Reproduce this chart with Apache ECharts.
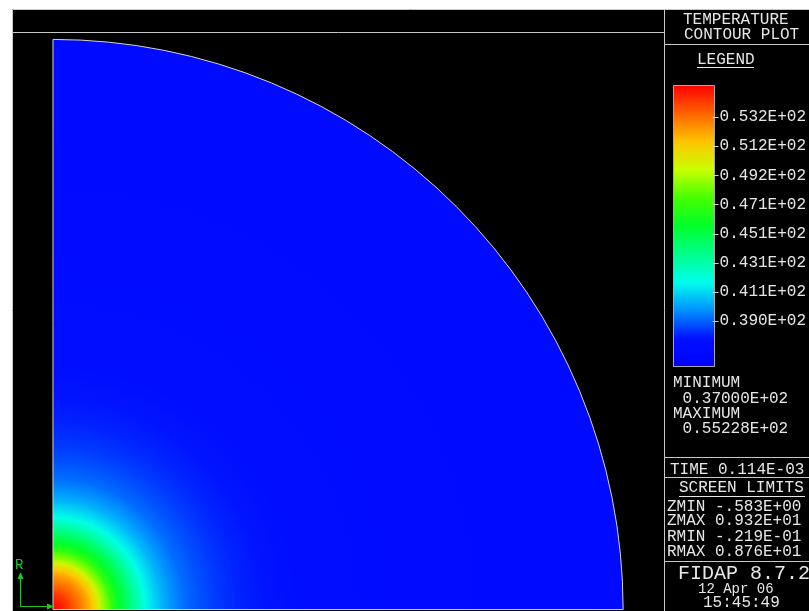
<!DOCTYPE html>
<html>
<head>
<meta charset="utf-8">
<script src="https://cdn.jsdelivr.net/npm/echarts@6/dist/echarts.min.js"></script>
<style>
  html, body { margin: 0; padding: 0; background: #ffffff; }
  #chart { width: 809px; height: 611px; }
</style>
</head>
<body>
<div id="chart"></div>
<script>
// Radial temperature profile, measured outward from the origin of the R-Z section
const profileRadius = [0, 0.1, 0.2, 0.3, 0.4, 0.5, 0.6, 0.7, 0.8, 0.9, 1.0, 1.1, 1.2, 1.3, 1.4,
                       1.5, 1.65, 1.8, 2.0, 2.25, 2.5, 2.8, 3.2, 3.7, 4.3, 5.0, 6.0, 7.2, 8.65];
const profileTemp = [55.2, 55.0, 54.5, 53.8, 53.1, 52.4, 51.4, 50.0, 48.4, 46.9, 45.8, 44.8, 43.8, 42.8, 41.9,
                     41.2, 40.4, 39.8, 39.2, 38.75, 38.4, 38.1, 37.85, 37.6, 37.4, 37.25, 37.12, 37.03, 37.0];
// Outer radius of the quarter-disc domain
const domainRadius = [8.65];

// Legend scale
const legendRange = [35.83, 55.43];
const legendTickValues = [39.025, 41.051, 43.076, 45.101, 47.127, 49.152, 51.177, 53.203];
const legendTickLabels = ['0.390E+02', '0.411E+02', '0.431E+02', '0.451E+02',
                          '0.471E+02', '0.492E+02', '0.512E+02', '0.532E+02'];
const colorRamp = ['#0000ff', '#0010ff', '#0090ff', '#00ffec', '#00ff8c', '#00ff2c',
                   '#47ff00', '#caff00', '#ffc400', '#ff6200', '#ff0000'];

// Side panel text
const titleLines = ['TEMPERATURE', 'CONTOUR PLOT'];
const legendTitle = 'LEGEND';
const extremaLines = ['MINIMUM', ' 0.37000E+02', 'MAXIMUM', ' 0.55228E+02'];
const timeLine = 'TIME 0.114E-03';
const limitsTitle = 'SCREEN LIMITS';
const limitsLines = ['ZMIN -.583E+00', 'ZMAX 0.932E+01', 'RMIN -.219E-01', 'RMAX 0.876E+01'];
const stampLines = ['FIDAP 8.7.2', '12 Apr 06', '15:45:49'];

const chart = echarts.init(document.getElementById('chart'));

const frameColor = '#c8c8c8';
const ink = '#e6e6e6';
const axisGreen = '#1ec81e';
const mono = '"Liberation Mono", "DejaVu Sans Mono", monospace';

function seg(x1, y1, x2, y2, color) {
  return { type: 'line', silent: true, z: 20,
    shape: { x1: x1, y1: y1, x2: x2, y2: y2 },
    style: { stroke: color || frameColor, lineWidth: 1 } };
}
function label(str, x, y, size) {
  return { type: 'text', silent: true, z: 20, x: x, y: y,
    style: { text: str, fill: ink, font: size + 'px ' + mono, verticalAlign: 'middle' } };
}

// Each ring spans the previous profile radius to its own radius and blends the two colours
function renderRing(params, api) {
  const i = params.dataIndexInside;
  if (i === 0) return null;
  const o = api.coord([0, 0]);
  const rOut = api.size([api.value(0, i), 0])[0];
  const rIn = api.size([api.value(0, i - 1), 0])[0];
  const cIn = api.visual('color', i - 1);
  const cOut = api.visual('color', i);
  return {
    type: 'sector',
    shape: { cx: o[0], cy: o[1], r0: Math.max(0, rIn - 1), r: rOut,
             startAngle: -Math.PI / 2, endAngle: 0, clockwise: true },
    style: {
      fill: new echarts.graphic.RadialGradient(o[0], o[1], rOut,
        [{ offset: rIn / rOut, color: cIn }, { offset: 1, color: cOut }], true)
    }
  };
}

function renderOutline(params, api) {
  const o = api.coord([0, 0]);
  const r = api.size([api.value(0), 0])[0];
  return {
    type: 'sector',
    shape: { cx: o[0], cy: o[1], r0: 0, r: r, startAngle: -Math.PI / 2, endAngle: 0, clockwise: true },
    style: { fill: 'none', stroke: '#d4d4d4', lineWidth: 1 }
  };
}

// Short tick dash on the right edge of the colour bar at each legend value
function renderLegendTick(params, api) {
  const p = api.coord([1, api.value(0)]);
  const y = Math.round(p[1]) + 0.5;
  return {
    type: 'line',
    shape: { x1: p[0], y1: y, x2: p[0] + 6, y2: y },
    style: { stroke: '#d0d0d0', lineWidth: 1 }
  };
}

const graphics = [
  { type: 'rect', silent: true, z: -10, shape: { x: 12, y: 9, width: 797, height: 602 }, style: { fill: '#000000' } },
  seg(12.5, 9.5, 809, 9.5),
  seg(12.5, 9.5, 12.5, 611),
  seg(664.5, 9.5, 664.5, 611),
  seg(12.5, 32.5, 664.5, 32.5),
  seg(664.5, 44.5, 809, 44.5),
  seg(664.5, 457.5, 809, 457.5),
  seg(664.5, 477.5, 809, 477.5),
  seg(664.5, 561.5, 809, 561.5),
  // colour bar outline
  { type: 'rect', silent: true, z: 20, shape: { x: 673.5, y: 85.5, width: 41, height: 281 },
    style: { fill: 'none', stroke: '#a8a8a8', lineWidth: 1 } },
  label(titleLines[0], 683, 20, 16),
  label(titleLines[1], 684, 34.5, 16),
  label(legendTitle, 697, 60, 16),
  seg(697, 67.5, 754, 67.5, ink),
  label(extremaLines[0], 673, 382.5, 16),
  label(extremaLines[1], 673, 398.5, 16),
  label(extremaLines[2], 673, 413.5, 16),
  label(extremaLines[3], 673, 428.5, 16),
  label(timeLine, 670, 470, 16),
  label(limitsTitle, 679, 488, 16),
  seg(679, 496.5, 805, 496.5, ink),
  label(limitsLines[0], 667, 506.5, 16),
  label(limitsLines[1], 667, 521, 16),
  label(limitsLines[2], 667, 536.5, 16),
  label(limitsLines[3], 667, 552, 16),
  label(stampLines[0], 678, 573.5, 20),
  label(stampLines[1], 698, 589, 14),
  label(stampLines[2], 703, 603, 16),
  // R / Z direction indicator
  seg(20.5, 576, 20.5, 606.5, axisGreen),
  seg(20.5, 606.5, 50, 606.5, axisGreen),
  { type: 'polygon', silent: true, z: 20, shape: { points: [[17.5, 579], [20.5, 572], [23.5, 579]] }, style: { fill: axisGreen } },
  { type: 'polygon', silent: true, z: 20, shape: { points: [[47, 603.5], [54, 606.5], [47, 609.5]] }, style: { fill: axisGreen } },
  { type: 'text', silent: true, z: 20, x: 15, y: 565,
    style: { text: 'R', fill: axisGreen, font: '14px ' + mono, verticalAlign: 'middle' } }
];

chart.setOption({
  backgroundColor: '#ffffff',
  animation: false,
  grid: [
    { left: 12, top: 32, width: 652, height: 579 },
    { left: 673, top: 85, width: 42, height: 282 }
  ],
  xAxis: [
    { type: 'value', gridIndex: 0, min: -0.622, max: 9.27, show: false },
    { type: 'value', gridIndex: 1, min: 0, max: 1, show: false }
  ],
  yAxis: [
    { type: 'value', gridIndex: 0, min: -0.0219, max: 8.76, show: false },
    { type: 'value', gridIndex: 1, min: legendRange[0], max: legendRange[1], position: 'right',
      axisLine: { show: false },
      splitLine: { show: false },
      axisTick: { show: false },
      axisLabel: { show: true, customValues: legendTickValues, margin: 7, color: ink, fontSize: 16, fontFamily: mono,
                   formatter: function (v) {
                     const k = legendTickValues.findIndex(function (t) { return Math.abs(t - v) < 1e-3; });
                     return k >= 0 ? legendTickLabels[k] : '';
                   } } }
  ],
  visualMap: {
    type: 'continuous',
    seriesIndex: 0,
    dimension: 1,
    min: legendRange[0],
    max: legendRange[1],
    orient: 'vertical',
    left: 673,
    top: 85,
    itemWidth: 42,
    itemHeight: 282,
    padding: 0,
    calculable: false,
    hoverLink: false,
    text: null,
    showLabel: false,
    inRange: { color: colorRamp }
  },
  series: [
    {
      type: 'custom',
      name: 'temperature',
      xAxisIndex: 0, yAxisIndex: 0,
      renderItem: renderRing,
      encode: { x: 0 },
      data: profileRadius.map(function (r, i) { return [r, profileTemp[i]]; }),
      z: 2,
      silent: true
    },
    {
      type: 'custom',
      name: 'domain',
      xAxisIndex: 0, yAxisIndex: 0,
      renderItem: renderOutline,
      data: domainRadius.map(function (r) { return [r]; }),
      z: 3,
      silent: true
    },
    {
      type: 'custom',
      name: 'legend ticks',
      xAxisIndex: 1, yAxisIndex: 1,
      renderItem: renderLegendTick,
      encode: { y: 0 },
      data: legendTickValues.map(function (v) { return [v]; }),
      z: 30,
      silent: true
    }
  ],
  graphic: graphics
});
</script>
</body>
</html>
